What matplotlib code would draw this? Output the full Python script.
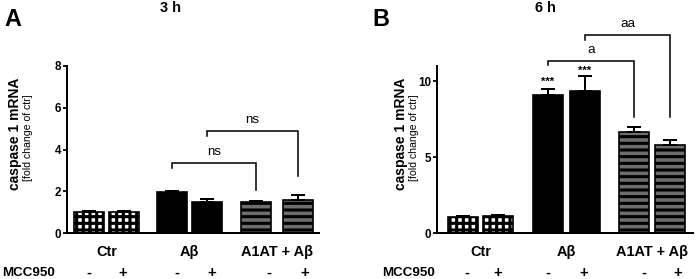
import matplotlib
matplotlib.use("Agg")
import matplotlib.pyplot as plt
import numpy as np

# ---------------- data ----------------
groups = ["Ctr", "A\u03b2", "A1AT + A\u03b2"]
mcc_signs = ["-", "+", "-", "+", "-", "+"]

titles = ["3 h", "6 h"]
panel_letters = ["A", "B"]

a_means = [1.02, 1.01, 1.95, 1.48, 1.47, 1.60]
a_errs = [0.05, 0.05, 0.07, 0.16, 0.07, 0.22]

b_means = [1.05, 1.12, 9.12, 9.37, 6.67, 5.82]
b_errs = [0.10, 0.06, 0.37, 0.99, 0.33, 0.28]

a_yticks = [0, 2, 4, 6, 8]
b_yticks = [0, 5, 10]

# significance: (left bar, right bar, y_line, y_left_end, y_right_end, label)
a_brackets = [(2, 4, 3.35, 3.11, 2.06, "ns"), (3, 5, 4.89, 4.65, 2.73, "ns")]
b_brackets = [(2, 4, 11.3, 11.04, 7.62, "a"), (3, 5, 13.06, 12.73, 7.65, "aa")]
b_stars = [(2, "***", 9.97), (3, "***", 10.70)]

# ---------------- layout ----------------
W, H = 696, 279
DPI = 80
FONT = "Liberation Sans"
plt.rcParams['font.family'] = [FONT, 'DejaVu Sans']
plt.rcParams['hatch.linewidth'] = 2.8

fig = plt.figure(figsize=(W / DPI, H / DPI), dpi=DPI)

def fx(px):
    return px / W

def fy(py):
    return 1 - py / H

a_pos = [0, 1, 2.371, 3.371, 4.771, 5.971]
b_pos = [0, 1, 2.429, 3.486, 4.886, 5.914]
a_sign_pos = [0, 0.97, 2.51, 3.51, 5.14, 6.17]
b_sign_pos = [0.11, 1.0, 2.43, 3.46, 5.17, 6.14]

panels = [
    dict(rect=[fx(67), fy(233), fx(319) - fx(67), 167 / H], pos=a_pos, means=a_means, errs=a_errs,
         ylim=(0, 8), yticks=a_yticks, xlim=(-0.629, 6.571), brackets=a_brackets, stars=[],
         signpos=a_sign_pos, title_x=170, letter_x=13, ylab_x=(15, 28), mcc_right=55),
    dict(rect=[fx(437), fy(233), fx(693) - fx(437), 167 / H], pos=b_pos, means=b_means, errs=b_errs,
         ylim=(0, 11), yticks=b_yticks, xlim=(-0.743, 6.571), brackets=b_brackets, stars=b_stars,
         signpos=b_sign_pos, title_x=545, letter_x=381, ylab_x=(401, 414), mcc_right=435),
]

bar_styles = [
    dict(facecolor="white", hatch="++"),
    dict(facecolor="white", hatch="++"),
    dict(facecolor="black", hatch=None),
    dict(facecolor="black", hatch=None),
    dict(facecolor="#6e6e6e", hatch="--"),
    dict(facecolor="#6e6e6e", hatch="--"),
]

width = 0.857

for i, p in enumerate(panels):
    ax = fig.add_axes(p["rect"])
    for j in range(6):
        st = bar_styles[j]
        ax.bar(p["pos"][j], p["means"][j], width=width, facecolor=st["facecolor"],
               edgecolor="black", linewidth=1.5, hatch=st["hatch"], zorder=2)
    errs = np.array(p["errs"])
    ax.errorbar(p["pos"], p["means"], yerr=[np.zeros_like(errs), errs], fmt="none",
                ecolor="black", elinewidth=1.8, capsize=6.3, capthick=1.8, zorder=3)
    ax.set_xlim(*p["xlim"])
    ax.set_ylim(*p["ylim"])
    ax.set_yticks(p["yticks"])
    ax.set_xticks([])
    for s in ["top", "right"]:
        ax.spines[s].set_visible(False)
    for s in ["left", "bottom"]:
        ax.spines[s].set_linewidth(1.8)
    ax.tick_params(axis="y", width=1.6, length=4, pad=1.5, labelsize=10.5)
    for lab in ax.get_yticklabels():
        lab.set_fontweight("bold")

    # brackets
    for (l, r, yl, yle, yre, lab) in p["brackets"]:
        xl, xr = p["pos"][l], p["pos"][r]
        ax.plot([xl, xl, xr, xr], [yle, yl, yl, yre], color="black", lw=1.4,
                clip_on=False, solid_joinstyle="miter", zorder=4)
        yr = p["ylim"][1]
        ax.text((xl + xr) / 2, yl + 0.03 * yr, lab, ha="center", va="bottom",
                fontsize=12, clip_on=False)
    for (k, s, yv) in p["stars"]:
        ax.text(p["pos"][k], yv, s, ha="center", va="center", fontsize=10,
                fontweight="bold", clip_on=False)

    # group labels and signs
    trans = ax.get_xaxis_transform()
    for g in range(3):
        xm = (p["pos"][2 * g] + p["pos"][2 * g + 1]) / 2
        ax.text(xm, -0.114, groups[g], transform=trans, ha="center", va="center",
                fontsize=13, fontweight="bold", clip_on=False)
    for j in range(6):
        ax.text(p["signpos"][j], -0.24, mcc_signs[j], transform=trans, ha="center",
                va="center", fontsize=13.5, fontweight="bold", clip_on=False)

    fig.text(fx(p["mcc_right"]), fy(273), "MCC950", ha="right", va="center",
             fontsize=12, fontweight="bold")
    fig.text(fx(p["title_x"]), fy(8.5), titles[i], ha="center", va="center",
             fontsize=13, fontweight="bold")
    fig.text(fx(p["letter_x"]), fy(19.5), panel_letters[i], ha="center", va="center",
             fontsize=21, fontweight="bold")
    fig.text(fx(p["ylab_x"][0]), fy(134), "caspase 1 mRNA", rotation=90, ha="center",
             va="center", fontsize=12.5, fontweight="bold")
    fig.text(fx(p["ylab_x"][1]), fy(138), "[fold change of ctr]", rotation=90, ha="center",
             va="center", fontsize=9.5)

fig.savefig("out.png", dpi=DPI)
